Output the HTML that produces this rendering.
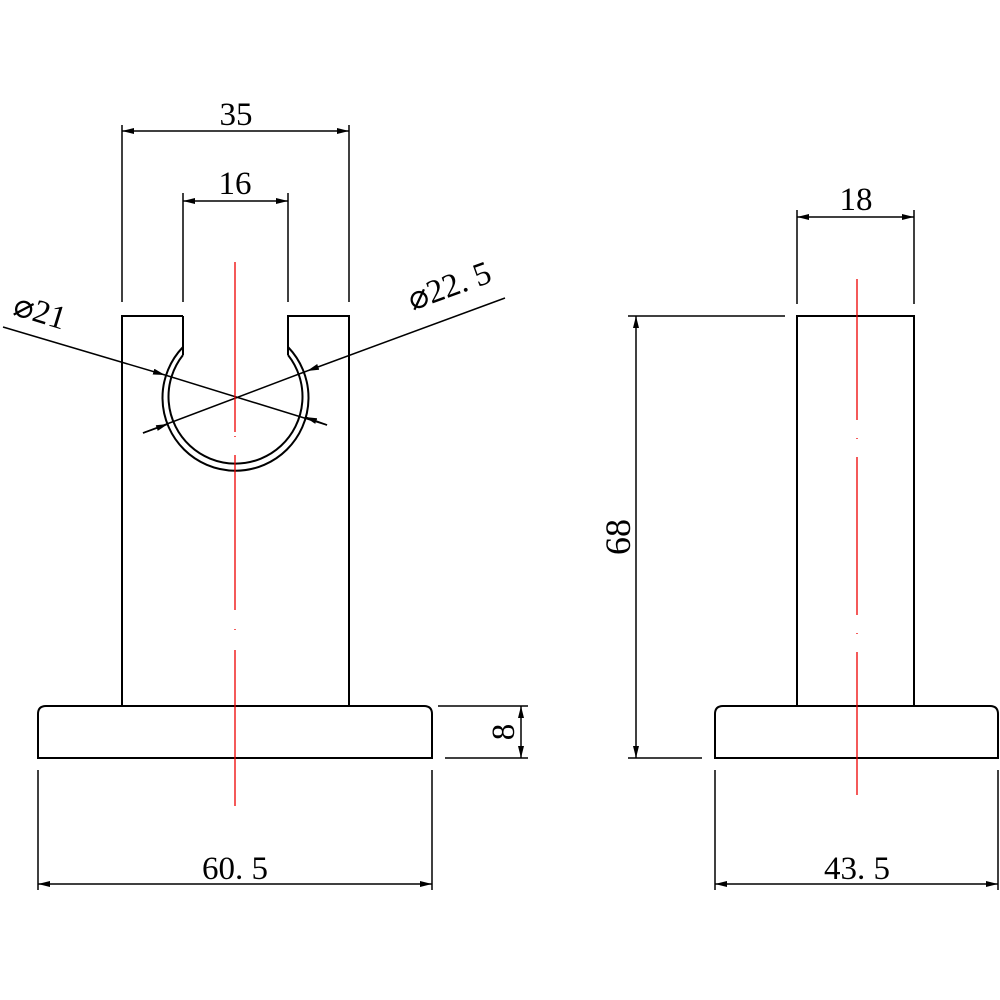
<!DOCTYPE html>
<html><head><meta charset="utf-8"><style>html,body{margin:0;padding:0;background:#fff}svg{display:block}</style></head>
<body>
<svg width="1000" height="1000" viewBox="0 0 1000 1000" xmlns="http://www.w3.org/2000/svg">
<defs>
<marker id="a" viewBox="0 0 12 6" refX="12" refY="3" markerWidth="12" markerHeight="6" orient="auto-start-reverse" markerUnits="userSpaceOnUse"><path d="M0,0 L12,3 L0,6 Z" fill="#000"/></marker>
</defs>
<g fill="none" stroke="#000" stroke-width="2">
<path d="M183,316 H122 V706 M349,706 V316 H288 V347"/>
<path d="M183,316 V347"/>
<path d="M183,347 A73,73 0 1 0 288,347"/>
<path d="M183,355 A67,67 0 1 0 288,355"/>
<line x1="183" y1="347" x2="183" y2="355"/><line x1="288" y1="347" x2="288" y2="355"/>
<path d="M38,758 V714 Q38,706 46,706 H424 Q432,706 432,714 V758 Z"/>
<path d="M797,706 V316 H914 V706"/>
<path d="M715,758 V714 Q715,706 723,706 H990 Q998,706 998,714 V758 Z"/>
</g>
<g stroke="#000" stroke-width="1.5" fill="none">
<line x1="122" y1="125" x2="122" y2="302"/><line x1="349" y1="125" x2="349" y2="302"/>
<line x1="122" y1="131" x2="349" y2="131" marker-start="url(#a)" marker-end="url(#a)"/>
<line x1="183" y1="193" x2="183" y2="302"/><line x1="288" y1="193" x2="288" y2="302"/>
<line x1="183" y1="201" x2="288" y2="201" marker-start="url(#a)" marker-end="url(#a)"/>
<line x1="3" y1="327" x2="165" y2="375" marker-end="url(#a)"/>
<line x1="165" y1="375" x2="327" y2="425"/>
<line x1="305" y1="417" x2="327" y2="425" marker-start="url(#a)"/>
<line x1="505" y1="298" x2="307" y2="371" marker-end="url(#a)"/>
<line x1="307" y1="371" x2="143" y2="433"/>
<line x1="168" y1="424" x2="143" y2="433" marker-start="url(#a)"/>
<line x1="438" y1="706" x2="528" y2="706"/><line x1="445" y1="758" x2="528" y2="758"/>
<line x1="521" y1="706" x2="521" y2="758" marker-start="url(#a)" marker-end="url(#a)"/>
<line x1="38" y1="770" x2="38" y2="890"/><line x1="432" y1="770" x2="432" y2="890"/>
<line x1="38" y1="884" x2="432" y2="884" marker-start="url(#a)" marker-end="url(#a)"/>
<line x1="797" y1="210" x2="797" y2="304"/><line x1="914" y1="210" x2="914" y2="304"/>
<line x1="797" y1="217" x2="914" y2="217" marker-start="url(#a)" marker-end="url(#a)"/>
<line x1="628" y1="316" x2="785" y2="316"/><line x1="628" y1="758" x2="702" y2="758"/>
<line x1="636" y1="316" x2="636" y2="758" marker-start="url(#a)" marker-end="url(#a)"/>
<line x1="715" y1="770" x2="715" y2="890"/><line x1="998" y1="770" x2="998" y2="890"/>
<line x1="715" y1="884" x2="998" y2="884" marker-start="url(#a)" marker-end="url(#a)"/>
</g>
<g stroke="#e00" stroke-width="1.3">
<line x1="235" y1="262" x2="235" y2="432"/><line x1="235" y1="436" x2="235" y2="437"/>
<line x1="235" y1="455" x2="235" y2="610"/><line x1="235" y1="629" x2="235" y2="630"/>
<line x1="235" y1="650" x2="235" y2="806"/>
<line x1="857" y1="279" x2="857" y2="420"/><line x1="857" y1="438" x2="857" y2="439"/>
<line x1="857" y1="457" x2="857" y2="615"/><line x1="857" y1="633" x2="857" y2="634"/>
<line x1="857" y1="652" x2="857" y2="795"/>
</g>
<g font-family="'Liberation Serif', serif" font-size="33" fill="#000" text-anchor="middle">
<text x="236" y="125">35</text>
<text x="235" y="194">16</text>
<text x="856" y="210">18</text>
<text x="235" y="879">60. 5</text>
<text x="857" y="879">43. 5</text>
<text transform="translate(630,537) rotate(-90)" font-size="36">68</text>
<text transform="translate(514,732) rotate(-90)">8</text>
<text transform="translate(37,322) rotate(17)">⌀21</text>
<text transform="translate(453,296) rotate(-20)">⌀22. 5</text>
</g>
</svg>
</body></html>
